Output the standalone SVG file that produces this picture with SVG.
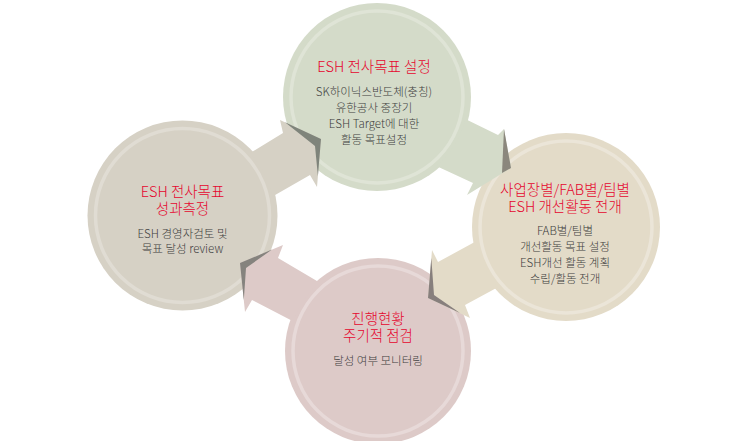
<svg xmlns="http://www.w3.org/2000/svg" width="750" height="441" viewBox="0 0 750 441">
<style>
.t{font-family:"Noto Sans CJK KR","Noto Sans",sans-serif;font-size:14.5px;font-weight:300;fill:#e5062e;text-anchor:middle}
.b{font-family:"Noto Sans CJK KR","Noto Sans",sans-serif;font-size:11.5px;font-weight:300;fill:#3f3f3f;text-anchor:middle}
.ring{fill:none;stroke-width:3.5}
</style>
<rect width="750" height="441" fill="#ffffff"/>
<g id="node-top">
<circle cx="377" cy="97" r="94" fill="#d4dbc9"/>
<circle class="ring" cx="377" cy="97" r="86" stroke="#dfe4d6"/>
<text class="t" x="374" y="72">ESH 전사목표 설정</text>
<text class="b" x="374" y="95.5">SK하이닉스반도체(충칭)</text>
<text class="b" x="374" y="111.5">유한공사 중장기</text>
<text class="b" x="374" y="127.5">ESH Target에 대한</text>
<text class="b" x="374" y="143.5">활동 목표설정</text>
</g>
<g id="node-right">
<circle cx="566" cy="227" r="94" fill="#e3dbc8"/>
<circle class="ring" cx="566" cy="227" r="86" stroke="#ebe5d8"/>
<text class="t" x="565" y="195">사업장별/FAB별/팀별</text>
<text class="t" x="565" y="212">ESH 개선활동 전개</text>
<text class="b" x="565" y="235">FAB별/팀별</text>
<text class="b" x="565" y="251">개선활동 목표 설정</text>
<text class="b" x="565" y="267">ESH개선 활동 계획</text>
<text class="b" x="565" y="283">수립/활동 전개</text>
</g>
<g id="node-bottom">
<circle cx="378" cy="351" r="93" fill="#ddcac8"/>
<circle class="ring" cx="378" cy="351" r="85" stroke="#e7d9d8"/>
<text class="t" x="378" y="324">진행현황</text>
<text class="t" x="378" y="341">주기적 점검</text>
<text class="b" x="378" y="365">달성 여부 모니터링</text>
</g>
<g id="node-left">
<circle cx="182.5" cy="215.5" r="95" fill="#d6d1c5"/>
<circle class="ring" cx="182.5" cy="215.5" r="87" stroke="#e0dcd3"/>
<text class="t" x="182.5" y="197">ESH 전사목표</text>
<text class="t" x="182.5" y="214">성과측정</text>
<text class="b" x="182.5" y="238">ESH 경영자검토 및</text>
<text class="b" x="182.5" y="253">목표 달성 review</text>
</g>
<g id="connectors">
<path d="M465.3,119.1 L498,135 L504,129 L511,168 L467,195 L473,183 L436.3,166 A91,91 0 0 0 465.3,119.1 Z" fill="#d4dbc9"/>
<polygon points="504,129 511,168 502,173" fill="#8b877d"/>
<path d="M476.1,241.3 L438,262 L432,250 L428,298 L470,318 L465,305 L497.8,287.2 A91,91 0 0 1 476.1,241.3 Z" fill="#e3dbc8"/>
<polygon points="431.3,258 428,298 460,313 434,295" fill="#877f7d"/>
<path d="M319.5,282.6 L278,258 L283,245 L240,263 L245,312 L252,300 L293,321.3 A90,90 0 0 1 319.5,282.6 Z" fill="#ddcac8"/>
<polygon points="272,249.6 240,263 243.8,300 246,268" fill="#85837e"/>
<path d="M250.1,153.1 L283,133 L280,120 L321,139 L317,187 L310,175 L272.5,196.5 A92,92 0 0 0 250.1,153.1 Z" fill="#d6d1c5"/>
<polygon points="285,122.3 321,139 317.9,176 315,146" fill="#7f847b"/>
</g>
</svg>
